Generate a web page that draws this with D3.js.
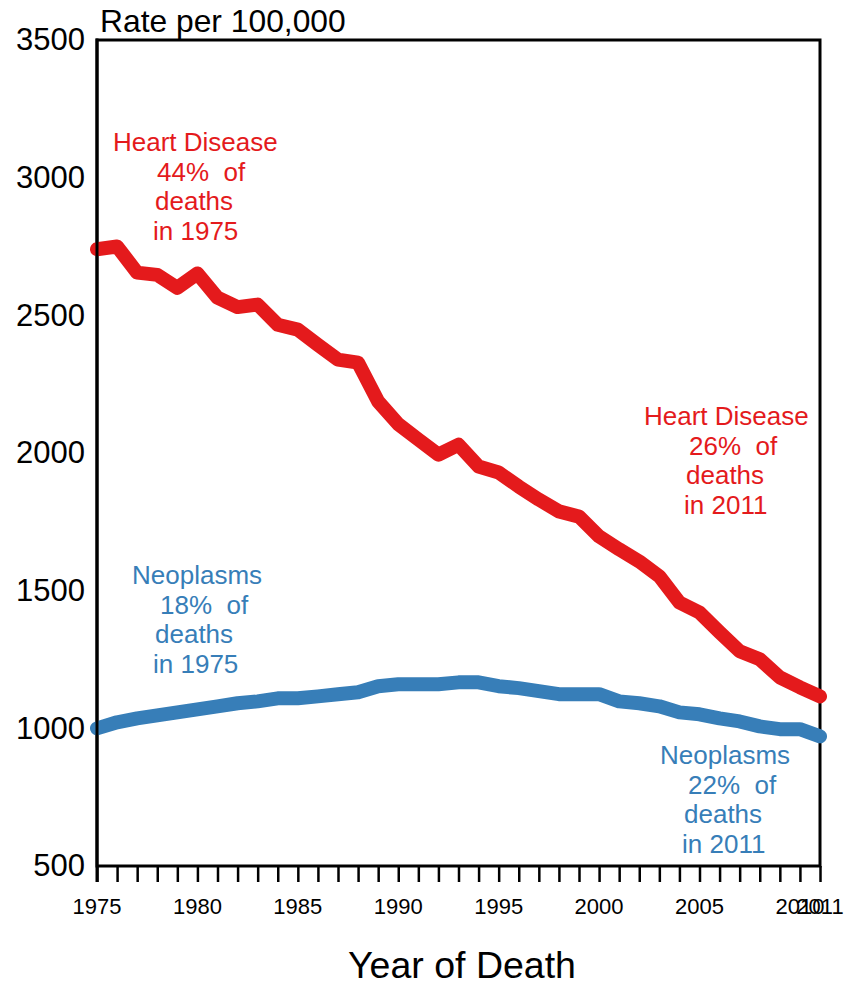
<!DOCTYPE html>
<html><head><meta charset="utf-8">
<script src="https://cdn.jsdelivr.net/npm/d3@7"></script>
<style>body{margin:0;background:#fff;} text{font-family:"Liberation Sans",Arial,sans-serif;}</style>
</head><body>
<svg id="chart" width="853" height="986"></svg>
<script>
const years = d3.range(1975, 2012);
const heartDisease = [2740,2750,2655,2647,2600,2652,2564,2530,2539,2466,2448,2393,2339,2328,2187,2105,2049,1994,2030,1951,1929,1878,1831,1788,1769,1697,1650,1606,1552,1457,1421,1349,1280,1251,1185,1149,1116];
const neoplasms = [1000,1022,1036,1047,1058,1069,1080,1091,1098,1109,1109,1116,1124,1131,1153,1160,1160,1160,1167,1167,1153,1146,1135,1124,1124,1124,1098,1091,1080,1058,1051,1036,1025,1007,997,997,971];
const yTicks = [500,1000,1500,2000,2500,3000,3500];
const xTickLabels = [1975,1980,1985,1990,1995,2000,2005,2010,2011];
const annotations = [
  {color:"#e41a1c", lines:[["Heart Disease",113],["44%  of",157],["deaths",155],["in 1975",153]], y0:151},
  {color:"#e41a1c", lines:[["Heart Disease",644],["26%  of",689],["deaths",686],["in 2011",684]], y0:425},
  {color:"#377eb8", lines:[["Neoplasms",132],["18%  of",160],["deaths",155],["in 1975",153]], y0:584},
  {color:"#377eb8", lines:[["Neoplasms",660],["22%  of",688],["deaths",684],["in 2011",682]], y0:764}
];

const svg = d3.select("#chart");
const x = d3.scaleLinear().domain([1975, 2011]).range([97, 820]);
const y = d3.scaleLinear().domain([500, 3500]).range([866, 40]);

// frame
svg.append("rect").attr("x", x(1975)).attr("y", y(3500))
  .attr("width", x(2011) - x(1975)).attr("height", y(500) - y(3500))
  .attr("fill", "none").attr("stroke", "#000").attr("stroke-width", 3);

// x ticks
const xAxis = d3.axisBottom(x).tickValues(years).tickSize(16).tickFormat("");
const gx = svg.append("g").attr("transform", `translate(0,${y(500)})`).call(xAxis);
gx.select(".domain").remove();
gx.selectAll(".tick line").attr("stroke", "#000").attr("stroke-width", 2.5);
svg.selectAll(".xlab").data(xTickLabels).join("text")
  .attr("x", d => x(d)).attr("y", 914).attr("text-anchor", "middle")
  .attr("font-size", 22).attr("fill", "#000").text(d => d);

// y axis labels
const yAxis = d3.axisLeft(y).tickValues(yTicks).tickSize(0).tickPadding(12).tickFormat(d3.format("d"));
const gy = svg.append("g").attr("transform", `translate(${x(1975)},0)`).call(yAxis);
gy.select(".domain").remove();
gy.selectAll(".tick text").attr("font-size", 31).attr("fill", "#000")
  .attr("font-family", "'Liberation Sans', Arial, sans-serif");

// axis titles
svg.append("text").attr("x", 100).attr("y", 32).attr("font-size", 31.8).attr("fill", "#000").text("Rate per 100,000");
svg.append("text").attr("x", 462).attr("y", 978).attr("text-anchor", "middle").attr("font-size", 37.5).attr("fill", "#000").text("Year of Death");

// lines
const line = d3.line().x((d, i) => x(years[i])).y(d => y(d));
svg.append("path").datum(neoplasms).attr("d", line).attr("fill", "none")
  .attr("stroke", "#377eb8").attr("stroke-width", 14).attr("stroke-linejoin", "round").attr("stroke-linecap", "round");
svg.append("path").datum(heartDisease).attr("d", line).attr("fill", "none")
  .attr("stroke", "#e41a1c").attr("stroke-width", 14).attr("stroke-linejoin", "round").attr("stroke-linecap", "round");

// left axis line over line starts
svg.append("line").attr("x1", x(1975)).attr("x2", x(1975)).attr("y1", y(3500) - 1.5).attr("y2", y(500) + 16)
  .attr("stroke", "#000").attr("stroke-width", 3);

// annotations
annotations.forEach(a => {
  a.lines.forEach((l, i) => {
    svg.append("text").attr("x", l[1]).attr("y", a.y0 + i * 29.5)
      .attr("font-size", 26).attr("fill", a.color).attr("xml:space", "preserve").text(l[0]);
  });
});
</script>
</body></html>
